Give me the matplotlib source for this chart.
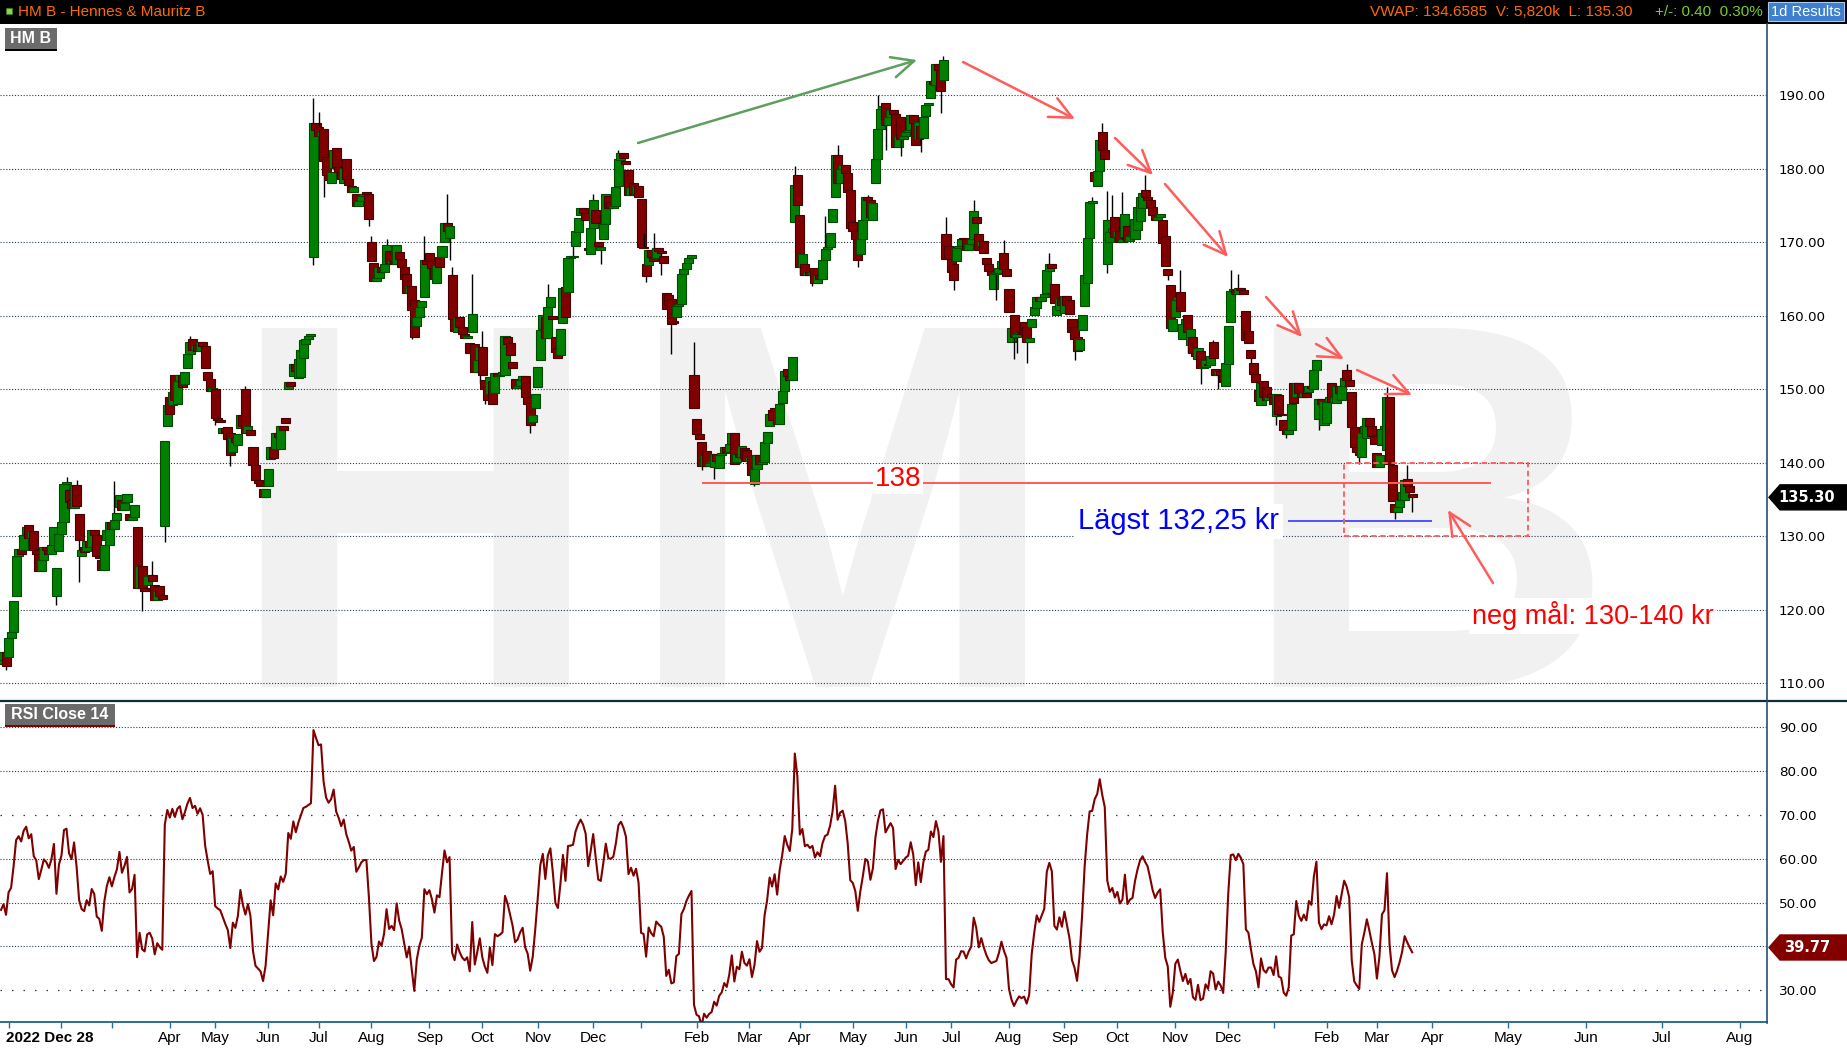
import numpy as np
import pandas as pd
import matplotlib
matplotlib.use("Agg")
import matplotlib.pyplot as plt
from matplotlib.patches import Rectangle, Polygon

# ------------------------------------------------------------------ data
first_trading_day = "2022-12-28"
exchange_holidays = ["2023-01-06", "2023-04-07", "2023-04-10", "2023-05-01", "2023-05-18",
                     "2023-06-06", "2023-06-23", "2023-12-25", "2023-12-26", "2024-01-01",
                     "2024-03-29", "2024-04-01", "2024-05-01", "2024-05-09", "2024-06-06",
                     "2024-06-21", "2024-12-24", "2024-12-25", "2024-12-26", "2024-12-31",
                     "2025-01-01", "2025-01-06"]

opens = [
    112.6,113.2,114.2,113.6,116.2,117.0,121.9,127.3,128.3,128.1,
    130.2,131.6,129.8,130.7,128.1,127.6,125.3,126.8,128.5,128.2,
    127.6,128.8,121.9,128.0,130.3,131.9,137.1,136.3,135.0,133.9,
    137.0,133.1,127.3,128.6,128.0,129.3,128.6,130.8,130.2,127.3,
    126.8,125.4,129.5,128.8,132.0,131.0,132.2,134.0,135.0,133.6,
    134.6,133.0,132.2,132.6,131.3,122.9,126.0,122.9,123.4,124.6,
    124.8,123.4,121.3,123.2,122.0,131.4,145.0,149.0,147.8,152.0,
    148.0,151.1,151.9,150.7,152.9,154.8,156.8,155.4,156.0,155.2,
    156.5,155.9,152.3,151.4,149.8,150.0,146.1,145.8,144.0,144.8,
    144.9,144.0,141.5,143.4,142.4,144.7,146.5,150.0,144.0,144.5,
    142.2,139.7,137.6,137.2,136.4,135.4,136.8,140.5,142.2,141.9,
    144.1,141.9,145.0,146.1,150.0,151.0,151.8,153.4,151.6,151.7,
    154.2,156.2,156.9,157.2,168.0,186.2,185.7,184.5,185.4,181.6,
    179.1,178.0,180.1,182.8,180.2,179.5,178.0,181.4,178.6,177.6,
    176.9,176.6,175.0,175.6,176.3,176.8,176.6,170.1,167.2,164.7,
    165.1,166.6,166.0,167.1,168.8,167.2,167.5,167.0,168.7,167.7,
    166.7,165.7,163.1,164.0,162.1,158.6,159.9,161.2,162.5,167.6,
    168.6,167.5,166.5,164.5,168.0,168.0,170.0,172.6,170.6,165.5,
    159.5,157.8,159.9,158.5,157.5,157.0,156.3,157.8,156.2,152.4,
    154.0,155.8,151.2,150.3,149.4,151.1,149.5,152.2,151.8,152.0,
    152.0,157.1,156.3,153.7,151.4,150.2,150.5,151.3,151.8,149.0,
    148.1,145.6,147.5,150.3,154.0,158.2,159.8,157.0,161.2,160.0,
    157.1,155.6,154.6,159.0,163.9,163.2,167.9,168.0,169.5,171.4,
    173.7,174.6,174.0,169.2,168.4,172.0,174.4,170.1,169.0,170.4,
    172.5,176.3,175.5,174.6,174.9,177.6,181.2,182.1,181.0,179.8,
    176.5,178.0,176.6,177.6,175.9,169.4,167.0,166.9,168.9,168.0,
    167.9,169.2,168.8,168.1,163.1,162.8,162.3,159.3,159.8,161.4,
    161.6,165.7,166.3,167.2,167.8,152.0,146.0,143.9,142.8,139.6,
    141.6,139.6,140.0,139.4,141.2,139.3,141.1,141.4,142.2,141.5,
    142.5,144.1,140.1,141.2,140.8,142.0,141.7,140.3,141.0,137.1,
    139.2,141.1,139.8,140.1,142.7,145.0,147.2,147.5,147.1,145.3,
    148.1,149.8,152.7,151.8,151.3,172.7,179.1,173.7,166.6,167.0,
    165.6,166.0,165.5,166.5,164.4,165.5,165.0,167.6,169.1,169.4,
    172.8,176.2,181.9,178.0,180.0,180.5,179.4,177.1,172.7,171.6,
    170.4,168.4,170.5,173.0,176.1,175.8,173.0,178.0,181.4,185.4,
    188.2,189.0,185.9,187.0,188.0,187.5,182.9,187.0,184.0,184.5,
    185.0,185.3,187.3,186.2,184.1,185.8,184.2,187.2,188.7,189.6,
    192.0,191.4,194.3,193.4,192.1,171.1,169.5,167.7,167.0,167.5,
    169.2,169.5,170.5,170.4,168.9,169.8,170.4,173.5,171.1,169.5,
    170.2,167.8,167.1,166.1,163.6,165.7,165.8,166.5,168.6,166.4,
    163.7,156.5,160.1,157.1,157.5,157.8,159.2,158.5,156.5,158.5,
    160.1,161.1,162.6,162.0,162.5,163.1,166.1,167.1,164.3,160.1,
    160.8,162.4,160.4,162.7,162.1,159.6,158.5,157.1,155.3,158.1,
    161.3,164.4,170.6,175.3,179.6,177.6,179.7,185.0,182.5,167.1,
    170.0,171.4,173.4,170.7,171.5,170.0,170.7,172.2,170.2,170.8,
    170.5,171.7,172.9,174.7,177.1,176.2,175.7,174.8,173.7,173.0,
    173.5,173.0,170.9,166.3,164.2,157.9,159.8,162.1,163.2,156.9,
    158.9,160.1,156.0,157.1,155.0,154.1,155.2,152.9,153.0,153.5,
    153.3,156.4,152.8,152.0,152.5,152.0,150.5,153.5,159.1,163.4,
    163.5,163.0,163.8,163.5,160.7,157.9,155.3,153.6,152.1,149.9,
    147.9,151.1,150.3,148.6,149.4,149.0,146.4,149.2,146.7,145.8,
    144.4,143.9,144.4,150.8,148.9,150.9,149.5,149.0,149.5,149.6,
    150.5,150.0,152.6,146.0,148.7,145.1,145.4,148.3,150.8,148.3,
    148.1,150.4,148.5,150.5,152.6,151.2,149.7,144.9,142.1,141.5,
    140.8,144.1,143.4,146.1,145.0,143.7,141.4,139.4,142.4,144.6,
    141.7,149.0,139.7,134.4,133.3,134.0,134.9,135.0,137.8,136.8,135.7]

closes = [
    113.2,114.2,112.3,116.2,117.0,121.2,127.3,128.3,127.6,130.2,
    131.2,129.8,130.7,128.1,127.6,125.3,126.8,128.5,128.2,127.6,
    128.8,131.2,125.7,130.3,131.9,137.1,137.4,134.6,133.9,137.0,
    134.1,129.5,128.1,127.8,129.3,128.6,130.8,130.2,127.3,127.0,
    125.4,128.8,130.8,132.0,131.0,132.2,133.2,135.6,133.6,134.5,
    135.7,132.2,132.6,134.3,122.9,126.0,122.9,122.5,124.6,124.8,
    123.9,121.3,122.5,121.9,121.5,142.9,147.8,146.7,149.6,148.5,
    151.1,151.9,150.3,152.3,154.8,156.5,155.4,156.0,155.2,156.5,
    155.9,152.9,151.3,149.8,150.2,146.1,145.8,145.6,144.8,144.0,
    143.3,141.1,143.4,142.8,143.9,146.5,145.0,144.0,145.0,143.8,
    139.7,137.6,137.2,136.8,135.4,136.5,139.1,142.2,140.6,144.1,
    143.5,145.0,144.5,145.4,151.0,150.5,153.4,152.5,154.1,155.4,
    156.7,156.9,157.2,157.5,186.2,185.3,184.5,185.0,181.0,179.1,
    178.5,179.6,182.6,180.2,179.5,178.6,180.1,178.6,177.8,176.9,
    177.5,175.0,175.6,176.3,176.6,176.6,173.2,167.5,164.7,165.1,
    166.6,166.0,167.1,169.6,167.2,167.5,167.0,169.6,167.7,166.7,
    165.0,163.1,164.0,160.8,157.1,159.9,161.2,162.0,167.6,167.0,
    167.5,166.5,165.0,166.9,166.7,169.5,172.6,171.5,172.2,159.5,
    158.0,159.9,158.5,157.5,157.0,157.3,154.9,160.3,152.4,154.0,
    155.8,152.0,150.0,148.6,151.7,148.0,152.2,151.8,152.0,152.3,
    157.3,156.2,154.6,152.9,150.2,150.5,151.3,151.8,149.0,148.0,
    145.2,146.5,149.3,153.1,158.1,160.1,157.0,161.2,162.6,159.5,
    155.1,154.3,158.2,163.8,159.9,167.9,168.0,168.2,171.5,173.3,
    174.6,174.0,173.0,169.0,172.0,175.7,172.6,169.5,169.3,172.5,
    176.6,174.7,174.6,175.0,177.5,181.3,182.1,181.5,180.6,176.5,
    177.5,176.6,177.6,176.1,169.4,169.2,165.4,168.9,168.0,167.5,
    169.2,168.8,168.5,167.2,160.9,161.5,158.9,159.0,161.4,161.6,
    165.7,166.3,167.2,167.8,168.3,147.5,143.9,143.3,139.6,141.0,
    139.6,140.0,140.2,141.2,140.2,141.1,141.4,142.2,141.5,142.5,
    144.1,139.9,141.2,140.8,142.3,140.7,140.3,140.8,138.3,139.2,
    141.1,139.8,140.1,142.8,144.2,146.6,145.8,147.1,145.3,148.0,
    149.8,152.5,151.8,151.3,154.4,177.8,175.1,166.6,168.4,165.6,
    166.0,165.5,166.0,164.4,165.5,165.0,167.6,169.1,169.4,171.2,
    174.5,181.9,178.0,180.0,180.5,179.4,176.8,172.0,171.6,170.5,
    167.6,170.5,173.0,176.1,175.8,173.5,175.4,181.4,185.4,188.2,
    188.5,185.9,187.0,188.0,187.5,182.9,184.5,184.0,184.5,185.0,
    185.3,187.3,186.2,183.2,186.3,184.2,187.0,188.7,189.0,192.0,
    191.5,194.3,193.4,190.6,194.8,167.7,167.7,166.0,164.9,169.2,
    169.5,170.5,170.4,168.9,169.8,170.4,174.3,172.6,169.0,170.2,
    168.5,167.1,166.1,165.6,165.7,165.8,166.5,167.5,166.3,165.4,
    160.5,158.4,157.1,157.5,157.8,157.5,157.6,156.5,157.0,159.6,
    161.2,162.6,162.0,162.5,163.0,166.2,167.1,166.5,161.8,161.4,
    162.4,161.5,162.7,161.5,160.2,157.8,156.9,155.2,156.9,160.1,
    165.5,170.6,175.5,175.6,178.4,179.7,183.9,182.5,181.4,173.0,
    171.4,172.0,170.7,171.5,170.0,170.5,173.9,170.2,170.8,171.0,
    173.2,174.8,176.1,176.7,176.2,175.8,174.8,173.7,173.0,173.5,
    173.8,169.9,166.8,165.6,158.3,159.5,162.1,162.5,160.7,158.9,
    159.5,157.8,158.2,155.0,154.5,155.6,152.9,153.0,154.0,153.3,
    154.5,154.2,152.0,152.5,152.0,151.0,153.6,158.6,163.4,163.5,
    163.0,163.8,163.5,163.0,156.7,156.3,154.2,152.1,151.0,148.4,
    150.8,149.0,148.6,149.0,149.0,148.0,149.3,146.7,146.5,144.4,
    143.9,144.4,148.0,148.1,150.9,149.5,149.0,149.5,149.0,150.5,
    150.2,152.6,154.0,148.7,148.0,148.4,148.3,149.0,148.3,149.0,
    150.4,149.5,150.5,151.6,151.2,150.5,144.9,142.1,141.5,141.0,
    144.1,145.0,146.1,145.0,143.7,142.5,139.4,141.0,144.6,145.0,
    149.0,139.9,134.8,133.3,134.0,134.9,136.0,137.7,136.8,136.0,135.3]

wick_high_idx = [26, 30, 45, 60, 75, 97, 124, 126, 147, 153, 168, 177, 179, 187, 191, 217,
                 227, 235, 245, 255, 259, 275, 315, 327, 332, 344, 348, 374, 375, 386, 398,
                 416, 433, 437, 439, 441, 445, 454, 468, 481, 488, 491, 521, 534, 550, 558]
wick_high_val = [138.1, 137.7, 137.5, 126.7, 157.3, 150.5, 189.6, 187.7, 170.8, 170.5, 170.9,
                 176.6, 166.6, 165.7, 158.0, 164.3, 170.5, 176.6, 182.6, 171.2, 171.3, 156.4,
                 180.4, 173.6, 183.2, 176.4, 190.0, 195.3, 173.5, 175.8, 170.3, 168.5, 176.1,
                 186.2, 177.0, 176.4, 176.8, 179.1, 166.2, 156.7, 166.2, 165.7, 153.9, 153.4,
                 150.3, 139.7]
wick_low_idx = [2, 22, 31, 56, 65, 85, 91, 124, 128, 146, 163, 178, 190, 192, 210, 238, 256,
                262, 266, 278, 283, 299, 317, 322, 340, 351, 357, 365, 373, 378, 395, 402, 403,
                407, 426, 439, 463, 471, 476, 483, 496, 506, 510, 523, 539, 553, 560]
wick_low_val = [111.8, 120.7, 123.8, 119.9, 129.2, 145.1, 139.5, 166.9, 176.2, 172.2, 156.8,
                167.6, 150.8, 148.0, 144.0, 167.0, 164.6, 165.6, 154.8, 139.0, 137.8, 136.9,
                165.6, 164.0, 166.6, 182.6, 181.8, 182.3, 187.6, 163.5, 162.2, 154.1, 154.9,
                153.6, 154.0, 165.8, 164.9, 155.0, 150.7, 150.0, 152.0, 145.1, 143.4, 144.4,
                139.9, 132.3, 133.3]

price_ticks = [110, 120, 130, 140, 150, 160, 170, 180, 190]
rsi_ticks = [30, 40, 50, 60, 70, 80, 90]
rsi_band_levels = [30, 70]
rsi_period = 14
rsi_seed_gain, rsi_seed_loss = 1.45, 1.55

axis_months = pd.date_range("2023-01-01", "2025-08-01", freq="MS")
unlabeled_months = ["2023-01", "2023-02", "2023-03", "2024-01", "2025-01"]
start_label = "2022 Dec 28"

header_title = "HM B - Hennes & Mauritz B"
header_stats = "VWAP: 134.6585  V: 5,820k  L: 135.30"
header_change = "+/-: 0.40  0.30%"
last_price = 135.30
last_rsi = 39.77

support_level, support_text = 137.2, "138"
low_level, low_text = 132.1, "Lägst 132,25 kr"
target_low, target_high, target_text = 130.0, 140.0, "neg mål: 130-140 kr"
watermark_letters = ["H", "M", "B"]

# ------------------------------------------------------------------ layout
W, H, DPI = 1847, 1050, 100
PLOT_R = 1767
plt.rcParams["font.family"] = ["DejaVu Sans"]
SANS = ["Liberation Sans", "DejaVu Sans"]

n = min(len(opens), len(closes))
o = np.asarray(opens[:n], float)
c = np.asarray(closes[:n], float)
hi = np.maximum(o, c)
lo = np.minimum(o, c)
for k, v in zip(wick_high_idx, wick_high_val):
    if k < n:
        hi[k] = max(hi[k], v)
for k, v in zip(wick_low_idx, wick_low_val):
    if k < n:
        lo[k] = min(lo[k], v)

dates = pd.bdate_range(first_trading_day, periods=n, freq="C", holidays=exchange_holidays)
x = np.arange(n)

# RSI (Wilder)
ag, al = rsi_seed_gain, rsi_seed_loss
rsi = [100 - 100 / (1 + ag / al)]
for d in np.diff(c):
    ag = (ag * (rsi_period - 1) + max(d, 0.0)) / rsi_period
    al = (al * (rsi_period - 1) + max(-d, 0.0)) / rsi_period
    rsi.append(100 - 100 / (1 + ag / al))
rsi = np.array(rsi)

# month tick positions
last_date = dates[-1]
tick_pos, tick_lab = [], []
future_anchor = None
for m in axis_months:
    if m <= last_date:
        pos = int(dates.searchsorted(m))
    else:
        if future_anchor is None:
            future_anchor = (m, (n - 1) + int(np.busday_count(last_date.date(), m.date())) + 1)
        pos = future_anchor[1] + (m - future_anchor[0]).days
    tick_pos.append(pos)
    tick_lab.append("" if m.strftime("%Y-%m") in unlabeled_months else m.strftime("%b"))

fig = plt.figure(figsize=(W / DPI, H / DPI), dpi=DPI, facecolor="white")
bg = fig.add_axes([0, 0, 1, 1], zorder=-5)
bg.set_xlim(0, W); bg.set_ylim(H, 0); bg.axis("off")

ax = fig.add_axes([0, (H - 700) / H, PLOT_R / W, (700 - 24) / H], zorder=1)
axr = fig.add_axes([0, (H - 1022) / H, PLOT_R / W, (1022 - 702) / H], zorder=1)
ov = fig.add_axes([0, 0, 1, 1], zorder=10)
ov.set_xlim(0, W); ov.set_ylim(H, 0); ov.axis("off"); ov.patch.set_visible(False)

XL = (-1 / 2.52, (PLOT_R - 1) / 2.52)
ax.set_facecolor("none")
ax.set_xlim(*XL)
ax.set_ylim(107.73, 199.70)
axr.set_xlim(*XL)
axr.set_ylim(22.8, 95.68)

# watermark
for letter, cx in zip(watermark_letters, [415, 842, 1427]):
    bg.text(cx, 687, letter, fontsize=376, fontweight="bold", color="#f1f1f1",
            ha="center", va="baseline", family=SANS)

# price grid
for t in price_ticks:
    ax.axhline(t, color="#2b3d50", lw=0.8, ls=(0, (1, 1.6)), zorder=1)

# candles
BW = 3.6
for i in range(n):
    up = c[i] >= o[i]
    fc = "#008000" if up else "#800000"
    ec = "#004a00" if up else "#4a0000"
    b0, b1 = min(o[i], c[i]), max(o[i], c[i])
    if hi[i] > b1 or lo[i] < b0:
        ax.plot([x[i], x[i]], [lo[i], hi[i]], color="black", lw=1.0, zorder=2,
                solid_capstyle="butt")
    ax.add_patch(Rectangle((x[i] - BW / 2, b0), BW, max(b1 - b0, 0.2), fc=fc, ec=ec,
                           lw=0.8, zorder=2))

ax.yaxis.tick_right()
ax.set_yticks(price_ticks)
ax.set_yticklabels([f"{t:.2f}" for t in price_ticks])
ax.tick_params(axis="y", length=0, pad=8.6, labelsize=9.7, labelcolor="black")
ax.set_xticks([])
for s in ax.spines.values():
    s.set_visible(False)

# RSI panel
for t in rsi_ticks:
    if t in rsi_band_levels:
        axr.axhline(t, color="#2b3d50", lw=0.9, ls=(0, (1.2, 8)), zorder=1)
    else:
        axr.axhline(t, color="#2b3d50", lw=0.8, ls=(0, (1, 1.6)), zorder=1)
axr.plot(x, rsi, color="#800000", lw=1.5, zorder=3)
axr.yaxis.tick_right()
axr.set_yticks(rsi_ticks)
axr.set_yticklabels([f"{t:.2f}" for t in rsi_ticks])
axr.tick_params(axis="y", length=0, pad=8.6, labelsize=9.7, labelcolor="black")
axr.set_xticks(tick_pos)
axr.set_xticklabels(tick_lab)
axr.tick_params(axis="x", direction="out", length=4, width=1.0, color="#2a6f8f", pad=2.5,
                labelsize=11, labelcolor="black")
for lbl in axr.get_xticklabels():
    lbl.set_family(SANS)
for k, s in axr.spines.items():
    s.set_visible(k == "bottom")
axr.spines["bottom"].set_color("#2a6f8f")
axr.spines["bottom"].set_linewidth(1.4)

# ---------------- annotations tied to price levels
def px_to_x(axis, xp):
    return axis.transData.inverted().transform((xp, H - 300))[0]

ax.plot([px_to_x(ax, 703), px_to_x(ax, 1490)], [support_level] * 2, color="#ff5a5a",
        lw=1.4, zorder=4)
ax.plot([px_to_x(ax, 1289), px_to_x(ax, 1431)], [low_level] * 2, color="#5050ff",
        lw=1.4, zorder=4)
bx0, bx1 = px_to_x(ax, 1344), px_to_x(ax, 1528)
ax.add_patch(Rectangle((bx0, target_low), bx1 - bx0, target_high - target_low, fill=False,
                       ec="#ff5a5a", lw=1.3, ls=(0, (3, 2)), zorder=4))

# ---------------- overlay (pixel coordinates)
ov.add_patch(Rectangle((0, 0), W, 24, fc="black", ec="none"))
ov.add_patch(Rectangle((6, 8), 6, 6, fc="#8fd14f", ec="#3d7d1d", lw=0.5))
ov.text(18, 12.5, header_title, color="#ff6a00", fontsize=11, va="center", ha="left", family=SANS)
ov.text(1370, 12.5, header_stats, color="#ff6a00", fontsize=11.1, va="center", ha="left", family=SANS)
ov.text(1655, 12.5, header_change, color="#77cc33", fontsize=11, va="center", ha="left", family=SANS)
ov.add_patch(Rectangle((1768, 2), 76, 19, fc="#3f7fcf", ec="#a8c8ee", lw=0.8))
ov.text(1806, 12, "1d Results", color="white", fontsize=10.5, va="center", ha="center", family=SANS)

ov.add_patch(Rectangle((5, 28), 52, 21, fc="#6b6b6b", ec="none"))
ov.add_patch(Rectangle((5, 48.5), 52, 2.5, fc="black", ec="none"))
ov.text(31, 38.5, "HM B", color="white", fontsize=11.5, fontweight="bold", va="center",
        ha="center", family=SANS)
ov.add_patch(Rectangle((5, 704), 110, 21, fc="#6b6b6b", ec="none"))
ov.add_patch(Rectangle((5, 724.5), 110, 2.5, fc="#800000", ec="none"))
ov.text(60, 714.5, "RSI Close 14", color="white", fontsize=11.5, fontweight="bold",
        va="center", ha="center", family=SANS)

ov.plot([0, W], [701, 701], color="#0f2d40", lw=1.6)
ov.plot([PLOT_R, PLOT_R], [24, 1023], color="#27506e", lw=1.2)
ov.text(6, 1038, start_label, color="black", fontsize=11, fontweight="bold", va="center",
        ha="left", family=SANS)

def value_box(axis, val, txt, col):
    yp = H - axis.transData.transform((0, val))[1]
    ov.add_patch(Polygon([(1769, yp), (1780, yp - 12.5), (W, yp - 12.5), (W, yp + 12.5),
                          (1780, yp + 12.5)], closed=True, fc=col, ec=col))
    ov.text(1807, yp, txt, color="white", fontsize=10.5, fontweight="bold", va="center",
            ha="center")

value_box(ax, last_price, f"{last_price:.2f}", "black")
value_box(axr, last_rsi, f"{last_rsi:.2f}", "#820000")

def open_arrow(x0, y0, x1, y1, col):
    ov.annotate("", xy=(x1, y1), xytext=(x0, y0),
                arrowprops=dict(arrowstyle="->,head_length=1.6,head_width=0.75", color=col,
                                lw=1.8, shrinkA=0, shrinkB=0, mutation_scale=10))

open_arrow(638, 143, 917, 60, "#5e9e5e")
for seg in [(963, 62, 1075, 119), (1115, 138, 1153, 175), (1165, 184, 1228, 257),
            (1266, 297, 1302, 337), (1316, 344, 1344, 359), (1357, 370, 1412, 395),
            (1493, 583, 1448, 510)]:
    open_arrow(*seg, "#ff5c5c")

ov.text(898, 479, support_text, color="#ff0000", fontsize=20, ha="center", va="center",
        family=SANS, bbox=dict(fc="white", ec="none", pad=1.5))
ov.text(1179, 521, low_text, color="#0000ff", fontsize=21, ha="center", va="center",
        family=SANS, bbox=dict(fc="white", ec="none", pad=2.5))
ov.text(1593, 616, target_text, color="#ff0000", fontsize=19.5, ha="center", va="center",
        family=SANS, bbox=dict(fc="white", ec="none", pad=2.5))

fig.savefig("out.png", dpi=DPI, facecolor="white")
